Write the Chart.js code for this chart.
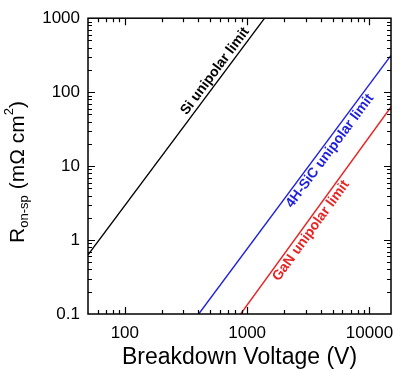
<!DOCTYPE html>
<html><head><meta charset="utf-8">
<script src="https://cdn.jsdelivr.net/npm/chart.js@4/dist/chart.umd.min.js"></script>
<style>html,body{margin:0;padding:0;background:#fff}</style>
</head><body>
<canvas id="c" width="400" height="371"></canvas>
<script>
const xRange = [50, 15000];
const yRange = [0.1, 1000];
const xTickLabels = [100, 1000, 10000];
const yTickLabels = [0.1, 1, 10, 100, 1000];
const siV = [50, 1390];   const siR = [0.63, 1000];
const sicV = [402, 15000]; const sicR = [0.1, 315];
const ganV = [885, 15000]; const ganR = [0.1, 63];
const lineNames = ['Si unipolar limit', '4H-SiC unipolar limit', 'GaN unipolar limit'];
const labelV = [617, 4210, 2945];
const labelSide = [-1, 1, 1];
const colors = ['#000000', '#1f1fe0', '#e82424'];
const FONT = '"Liberation Sans", Arial, Helvetica, sans-serif';

function pts(v, r) { return v.map((x, i) => ({ x: x, y: r[i] })); }
const series = [[siV, siR], [sicV, sicR], [ganV, ganR]];

function isNice(v) {
  const e = Math.floor(Math.log10(v) + 1e-9);
  const m = v / Math.pow(10, e);
  return Math.abs(m - Math.round(m)) < 1e-6;
}
function isMajor(v, list) { return list.some(t => Math.abs(v - t) / t < 1e-6); }

const framePlugin = {
  id: 'frame',
  afterDatasetsDraw(chart) {
    const ctx = chart.ctx, a = chart.chartArea;
    const xs = chart.scales.x, ys = chart.scales.y;
    ctx.save();
    ctx.strokeStyle = '#000'; ctx.lineWidth = 1.2;
    // ticks
    xs.ticks.forEach(t => {
      if (!isNice(t.value)) return;
      const px = Math.round(xs.getPixelForValue(t.value)) + 0.5;
      if (px < a.left + 1 || px > a.right - 1) return;
      const L = isMajor(t.value, xTickLabels) ? 7 : 4;
      ctx.beginPath();
      ctx.moveTo(px, a.bottom); ctx.lineTo(px, a.bottom - L);
      ctx.moveTo(px, a.top); ctx.lineTo(px, a.top + L);
      ctx.stroke();
    });
    ys.ticks.forEach(t => {
      if (!isNice(t.value)) return;
      const py = Math.round(ys.getPixelForValue(t.value)) + 0.5;
      if (py < a.top + 1 || py > a.bottom - 1) return;
      const L = isMajor(t.value, yTickLabels) ? 7 : 4;
      ctx.beginPath();
      ctx.moveTo(a.left, py); ctx.lineTo(a.left + L, py);
      ctx.moveTo(a.right, py); ctx.lineTo(a.right - L, py);
      ctx.stroke();
    });
    ctx.lineWidth = 1.5;
    ctx.strokeRect(a.left, a.top, a.right - a.left, a.bottom - a.top);

    // line labels
    series.forEach((s, i) => {
      const v = s[0], r = s[1];
      const V = labelV[i];
      const t = (Math.log10(V) - Math.log10(v[0])) / (Math.log10(v[1]) - Math.log10(v[0]));
      const R = Math.pow(10, Math.log10(r[0]) + t * (Math.log10(r[1]) - Math.log10(r[0])));
      const x0 = xs.getPixelForValue(v[0]), y0 = ys.getPixelForValue(r[0]);
      const x1 = xs.getPixelForValue(v[1]), y1 = ys.getPixelForValue(r[1]);
      const ang = Math.atan2(y1 - y0, x1 - x0);
      ctx.save();
      ctx.translate(xs.getPixelForValue(V), ys.getPixelForValue(R));
      ctx.rotate(ang);
      ctx.translate(0, labelSide[i] * 8);
      ctx.fillStyle = colors[i];
      ctx.font = 'bold 14px ' + FONT;
      ctx.textAlign = 'center'; ctx.textBaseline = 'middle';
      ctx.fillText(lineNames[i], 0, 0);
      ctx.restore();
    });

    // axis titles
    ctx.fillStyle = '#000';
    ctx.font = '23px ' + FONT;
    ctx.textAlign = 'center'; ctx.textBaseline = 'middle';
    ctx.fillText('Breakdown Voltage (V)', (a.left + a.right) / 2, 358);

    // y title with sub/superscript
    const parts = [
      { t: 'R', f: '21px ', dy: 0 },
      { t: 'on-sp', f: '13px ', dy: 6 },
      { t: ' (m\u03A9 cm', f: '21px ', dy: 0 },
      { t: '2', f: '13px ', dy: -9 },
      { t: ')', f: '21px ', dy: 0 }
    ];
    let total = 0;
    parts.forEach(p => { ctx.font = p.f + FONT; p.w = ctx.measureText(p.t).width; total += p.w; });
    ctx.save();
    ctx.translate(18, 172);
    ctx.rotate(-Math.PI / 2);
    ctx.textAlign = 'left'; ctx.textBaseline = 'middle';
    let cx = -total / 2;
    parts.forEach(p => { ctx.font = p.f + FONT; ctx.fillText(p.t, cx, p.dy); cx += p.w; });
    ctx.restore();
    ctx.restore();
  }
};

new Chart(document.getElementById('c'), {
  type: 'scatter',
  data: {
    datasets: series.map((s, i) => ({
      label: lineNames[i],
      data: pts(s[0], s[1]),
      showLine: true,
      borderColor: colors[i],
      backgroundColor: colors[i],
      borderWidth: 1.4,
      pointRadius: 0,
      pointHoverRadius: 0,
      tension: 0
    }))
  },
  options: {
    responsive: false,
    animation: false,
    events: [],
    layout: { padding: { left: 0, right: 8, top: 13, bottom: 0 } },
    plugins: { legend: { display: false }, tooltip: { enabled: false } },
    scales: {
      x: {
        type: 'logarithmic',
        min: xRange[0], max: xRange[1],
        grid: { display: false, drawTicks: false },
        border: { display: false },
        afterFit: s => { s.height = 57; },
        ticks: {
          autoSkip: false, maxRotation: 0, padding: 9, color: '#000',
          font: { family: FONT, size: 17 },
          callback: v => isMajor(v, xTickLabels) ? String(Math.round(v)) : ''
        }
      },
      y: {
        type: 'logarithmic',
        min: yRange[0], max: yRange[1],
        grid: { display: false, drawTicks: false },
        border: { display: false },
        afterFit: s => { s.width = 88; },
        ticks: {
          autoSkip: false, padding: 8, color: '#000',
          font: { family: FONT, size: 17 },
          callback: v => {
            const m = yTickLabels.find(t => Math.abs(v - t) / t < 1e-6);
            return m !== undefined ? String(m) : '';
          }
        }
      }
    }
  },
  plugins: [framePlugin]
});
</script>
</body></html>
